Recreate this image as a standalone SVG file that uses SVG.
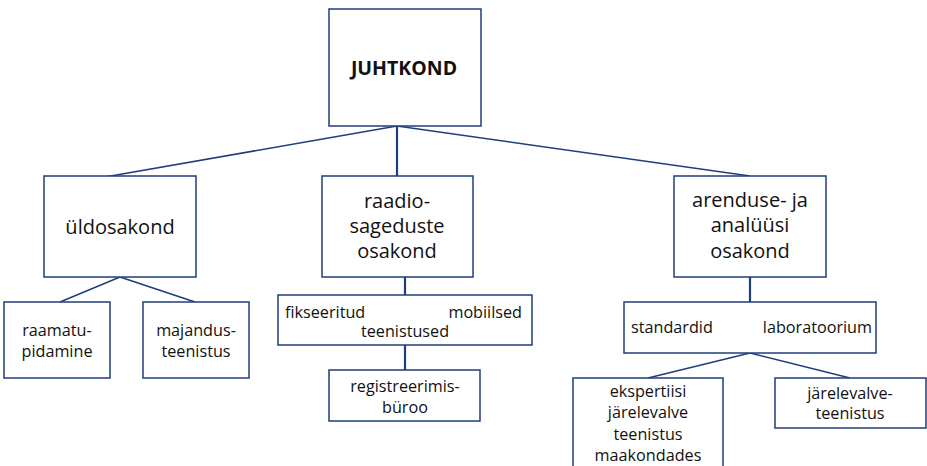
<svg xmlns="http://www.w3.org/2000/svg" width="927" height="466" viewBox="0 0 927 466">
<style>
rect{fill:#fff;stroke:#1f3e7c;stroke-width:1.5}
.c line{stroke:#1f3e7c;stroke-width:1.5}
.c .v{stroke-width:2.2}
text{font-family:"Open Sans","Noto Sans",sans-serif;fill:#111;text-anchor:middle}
.b{font-size:20px}
.s{font-size:16.2px}
.t{font-size:19.5px;font-weight:bold}
</style>
<rect x="0" y="0" width="927" height="466" style="stroke:none"/>
<g class="c" id="connectors">
<line x1="397" y1="126" x2="105" y2="177"/>
<line class="v" x1="397" y1="126" x2="397" y2="176"/>
<line x1="397" y1="126" x2="750" y2="176"/>
<line x1="120" y1="277" x2="60" y2="302"/>
<line x1="120" y1="277" x2="195" y2="302"/>
<line class="v" x1="405" y1="277" x2="405" y2="295"/>
<line class="v" x1="405" y1="345" x2="405" y2="370"/>
<line class="v" x1="750" y1="277" x2="750" y2="302"/>
<line x1="750" y1="353" x2="648" y2="378"/>
<line x1="750" y1="353" x2="850" y2="378"/>
</g>
<g id="juhtkond"><rect x="329" y="9" width="152" height="117"/><text class="t" x="404" y="75">JUHTKOND</text></g>
<g id="uldosakond"><rect x="44" y="176" width="152" height="101"/><text class="b" x="120" y="234">üldosakond</text></g>
<g id="raamatupidamine"><rect x="4" y="302" width="106" height="76"/><text class="s" x="57" y="336">raamatu-</text><text class="s" x="57" y="357">pidamine</text></g>
<g id="majandusteenistus"><rect x="143" y="302" width="106" height="76"/><text class="s" x="196" y="336">majandus-</text><text class="s" x="196" y="357">teenistus</text></g>
<g id="raadiosageduste"><rect x="322" y="176" width="151" height="101"/><text class="b" x="397" y="208">raadio-</text><text class="b" x="397" y="233">sageduste</text><text class="b" x="397" y="258">osakond</text></g>
<g id="teenistused"><rect x="278" y="295" width="254" height="50"/><text class="s" x="285" y="318" style="text-anchor:start">fikseeritud</text><text class="s" x="522" y="318" style="text-anchor:end">mobiilsed</text><text class="s" x="405" y="337">teenistused</text></g>
<g id="registreerimisbyroo"><rect x="329" y="370" width="151" height="51"/><text class="s" x="405" y="392">registreerimis-</text><text class="s" x="405" y="413">büroo</text></g>
<g id="arendus"><rect x="674" y="176" width="152" height="101"/><text class="b" x="750" y="207">arenduse- ja</text><text class="b" x="750" y="232">analüüsi</text><text class="b" x="750" y="258">osakond</text></g>
<g id="standardid"><rect x="624" y="302" width="252" height="51"/><text class="s" x="631" y="333" style="text-anchor:start">standardid</text><text class="s" x="872" y="333" style="text-anchor:end">laboratoorium</text></g>
<g id="ekspertiisi"><rect x="573" y="378" width="150" height="100"/><text class="s" x="648" y="397">ekspertiisi</text><text class="s" x="648" y="418">järelevalve</text><text class="s" x="648" y="440">teenistus</text><text class="s" x="648" y="461">maakondades</text></g>
<g id="jarelevalveteenistus"><rect x="775" y="378" width="151" height="50"/><text class="s" x="850" y="399">järelevalve-</text><text class="s" x="850" y="419">teenistus</text></g>
</svg>
